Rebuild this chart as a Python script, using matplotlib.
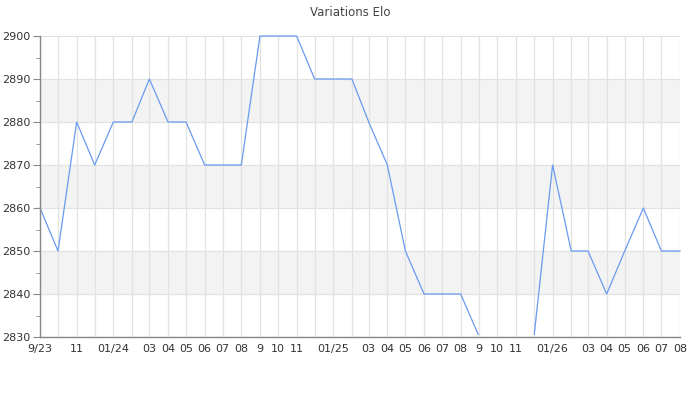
import matplotlib
matplotlib.use("Agg")
import matplotlib.pyplot as plt
import matplotlib.dates as mdates
from matplotlib.patches import Rectangle
import numpy as np
import pandas as pd
from matplotlib.ticker import MultipleLocator

months = pd.date_range("2023-09-01", "2026-08-01", freq="MS")
elo = [2860, 2850, 2880, 2870, 2880, 2880, 2890, 2880, 2880, 2870, 2870, 2870,
       2900, 2900, 2900, 2890, 2890, 2890, 2880, 2870, 2850, 2840, 2840, 2840,
       2830, 2830, 2830, 2830, 2870, 2850, 2850, 2840, 2850, 2860, 2850, 2850]
tick_dates = ["2023-09-01", "2023-11-01", "2024-01-01", "2024-03-01", "2024-04-01", "2024-05-01",
              "2024-06-01", "2024-07-01", "2024-08-01", "2024-09-01", "2024-10-01", "2024-11-01",
              "2025-01-01", "2025-03-01", "2025-04-01", "2025-05-01", "2025-06-01", "2025-07-01",
              "2025-08-01", "2025-09-01", "2025-10-01", "2025-11-01", "2026-01-01", "2026-03-01",
              "2026-04-01", "2026-05-01", "2026-06-01", "2026-07-01", "2026-08-01"]
tick_labels = ["9/23", "11", "01/24", "03", "04", "05", "06", "07", "08", "9", "10", "11",
               "01/25", "03", "04", "05", "06", "07", "08", "9", "10", "11",
               "01/26", "03", "04", "05", "06", "07", "08"]
title = "Variations Elo"

fig = plt.figure(figsize=(7, 4), dpi=100)
ax = fig.add_axes([40/700, 1-337/400, 640/700, 301/400])

ymin, ymax = 2830, 2900
ax.set_ylim(ymin, ymax)
ax.set_xlim(months[0], months[-1])

# alternating bands
for i, y0 in enumerate(range(ymin, ymax, 10)):
    if i % 2 == 1:
        ax.axhspan(y0, y0 + 10, color="#f3f3f3", zorder=0, lw=0)

# grid
for m in months:
    ax.axvline(m, color="#e2e2e2", lw=0.9, zorder=1)
for y in range(ymin, ymax + 1, 10):
    ax.axhline(y, color="#e2e2e2", lw=0.9, zorder=1)

line, = ax.plot(months, elo, color="#6a9af0", lw=0.9, zorder=3)
x0 = mdates.date2num(months[0]) - 30
clip = Rectangle((x0, ymin + 0.5), 2000, (ymax - ymin) + 2, transform=ax.transData)
line.set_clip_path(clip)

ax.set_xticks(pd.to_datetime(tick_dates))
ax.set_xticklabels(tick_labels)
ax.yaxis.set_major_locator(MultipleLocator(10))
ax.yaxis.set_minor_locator(MultipleLocator(5))
ax.tick_params(axis="x", length=0, labelsize=8, colors="#333333", pad=5)
ax.tick_params(axis="y", which="major", length=5, labelsize=8, colors="#333333", pad=2)
ax.tick_params(axis="y", which="minor", length=3, color="#888888")
ax.tick_params(axis="y", which="major", color="#888888")

for s in ["top", "right"]:
    ax.spines[s].set_visible(False)
for s in ["left", "bottom"]:
    ax.spines[s].set_color("#888888")
    ax.spines[s].set_linewidth(1)
    ax.spines[s].set_zorder(4)

fig.text(0.5, 1-12/400, title, ha="center", va="center", fontsize=8.5, color="#444444")

fig.savefig("out.png", dpi=100)
